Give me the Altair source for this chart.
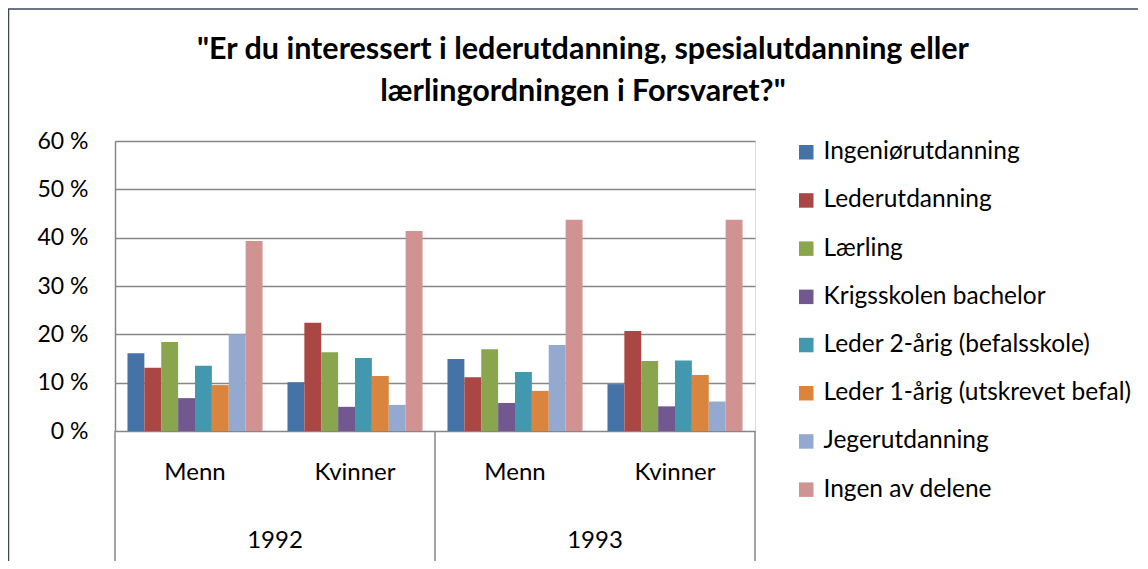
import altair as alt
import pandas as pd

series = ["Ingeniørutdanning", "Lederutdanning", "Lærling", "Krigsskolen bachelor",
          "Leder 2-årig (befalsskole)", "Leder 1-årig (utskrevet befal)",
          "Jegerutdanning", "Ingen av delene"]
colors = ["#4572A7", "#AA4643", "#89A54E", "#71588F", "#4198AF", "#DB843D", "#93A9CF", "#D19392"]

years = ["1992", "1992", "1993", "1993"]
genders = ["Menn", "Kvinner", "Menn", "Kvinner"]
groups = [f"{y}|{g}" for y, g in zip(years, genders)]

ingenior = [0.161, 0.101, 0.149, 0.097]
leder = [0.131, 0.224, 0.111, 0.207]
laerling = [0.184, 0.163, 0.169, 0.145]
krigs = [0.068, 0.050, 0.058, 0.051]
leder2 = [0.135, 0.151, 0.122, 0.146]
leder1 = [0.095, 0.114, 0.083, 0.116]
jeger = [0.200, 0.054, 0.178, 0.061]
ingen = [0.393, 0.414, 0.437, 0.437]

title_lines = ['"Er du interessert i lederutdanning, spesialutdanning eller',
               'lærlingordningen i Forsvaret?"']

all_vals = [ingenior, leder, laerling, krigs, leder2, leder1, jeger, ingen]
rows = []
for s, vals in zip(series, all_vals):
    for g, v in zip(groups, vals):
        rows.append({"series": s, "group": g, "value": v})
df = pd.DataFrame(rows)

W, H = 640, 290
FONT = "Lato"
FS = 24

gscale = alt.Scale(domain=groups, paddingInner=0.156, paddingOuter=0.078)

bars = alt.Chart(df).mark_bar().encode(
    x=alt.X("group:N", scale=gscale, axis=None),
    xOffset=alt.XOffset("series:N", scale=alt.Scale(domain=series, paddingInner=0, paddingOuter=0)),
    y=alt.Y("value:Q", scale=alt.Scale(domain=[0, 0.6]),
            axis=alt.Axis(values=[0, 0.1, 0.2, 0.3, 0.4, 0.5, 0.6], title=None,
                          labelExpr="format(datum.value*100,'d') + ' %'",
                          labelFontSize=FS - 1, labelFont=FONT, labelColor="#000000",
                          tickSize=0, labelPadding=27, domainColor="#868686",
                          domainWidth=1.5, gridColor="#868686", gridWidth=1.5)),
    color=alt.Color("series:N", scale=alt.Scale(domain=series, range=colors),
                    legend=alt.Legend(title=None, orient="none", legendX=679, legendY=-1,
                                      symbolType="square", symbolSize=210,
                                      symbolStrokeWidth=0, labelFontSize=24.5,
                                      labelFont=FONT, labelColor="#000000",
                                      labelOffset=5, rowPadding=23.2, padding=0,
                                      labelLimit=400)),
)

gdf = pd.DataFrame({"group": groups, "gender": genders})
gender_text = alt.Chart(gdf).mark_text(fontSize=FS, font=FONT, color="#000000", baseline="middle").encode(
    x=alt.X("group:N", scale=gscale, axis=None),
    y=alt.value(332),
    text="gender:N",
)

ydf = pd.DataFrame({"year": ["1992", "1993"]})
year_text = alt.Chart(ydf).mark_text(fontSize=FS, font=FONT, color="#000000", baseline="middle").encode(
    x=alt.X("year:N", scale=alt.Scale(domain=["1992", "1993"], paddingInner=0, paddingOuter=0), axis=None),
    y=alt.value(400),
    text="year:N",
)

sep_df = pd.DataFrame({"pos": [0, 1, 2]})
seps = alt.Chart(sep_df).mark_rule(color="#868686", strokeWidth=1.5).encode(
    x=alt.X("pos:Q", scale=alt.Scale(domain=[0, 2]), axis=None),
    y=alt.value(H),
    y2=alt.value(421),
)

one = pd.DataFrame({"k": [0]})
frame_left = alt.Chart(one).mark_rule(color="#3a4a5e", strokeWidth=1.5).encode(
    x=alt.value(-106.5), y=alt.value(-132), y2=alt.value(430))
frame_top = alt.Chart(one).mark_rule(color="#3a4a5e", strokeWidth=1.5).encode(
    x=alt.value(-107), x2=alt.value(1030), y=alt.value(-132))

t1 = alt.Chart(one).mark_text(text=title_lines[0], fontSize=30.5, font=FONT, fontWeight="bold",
                              color="#000000", baseline="middle", align="center").encode(
    x=alt.value(468), y=alt.value(-91))
t2 = alt.Chart(one).mark_text(text=title_lines[1], fontSize=30.5, font=FONT, fontWeight="bold",
                              color="#000000", baseline="middle", align="center").encode(
    x=alt.value(468), y=alt.value(-49))

chart = alt.layer(bars, gender_text, year_text, seps, frame_left, frame_top, t1, t2).resolve_scale(
    x="independent"
).properties(
    width=W, height=H,
    autosize=alt.AutoSizeParams(type="none"),
    padding={"left": 107, "top": 133, "right": 383, "bottom": 130},
).configure_view(stroke=None).configure(background="white")

chart.save("out.html", embed_options={"renderer": "svg", "actions": False})
